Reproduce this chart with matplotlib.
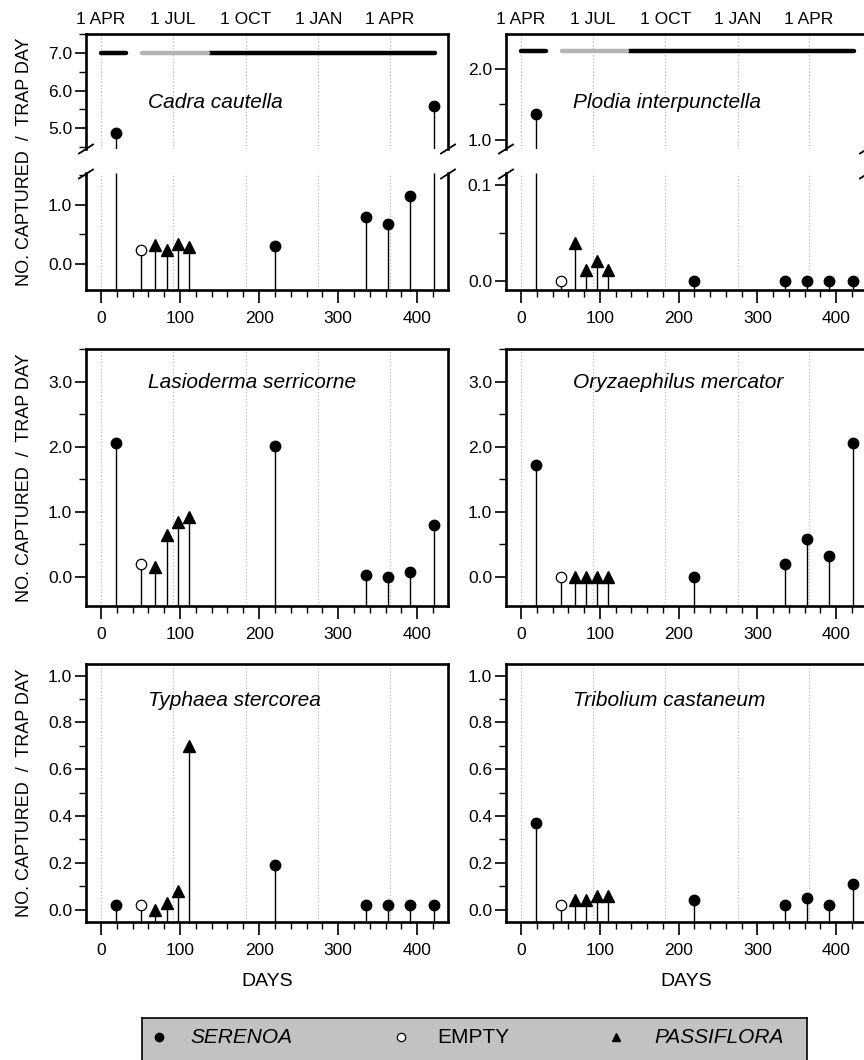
import matplotlib
matplotlib.use("Agg")
import matplotlib.pyplot as plt
from matplotlib.ticker import MultipleLocator, FormatStrFormatter
from matplotlib.lines import Line2D

plt.rcParams['font.family'] = ['Liberation Sans', 'DejaVu Sans']

# sampling days for each bait type
days_serenoa = [19, 220, 335, 363, 391, 421]
days_empty = [51]
days_passiflora = [68, 83, 97, 111]

# captures per trap day, by species
cadra_serenoa = [4.88, 0.31, 0.80, 0.68, 1.15, 5.60]
cadra_empty = [0.24]
cadra_passiflora = [0.32, 0.23, 0.34, 0.28]

plodia_serenoa = [1.37, 0.0, 0.0, 0.0, 0.0, 0.0]
plodia_empty = [0.0]
plodia_passiflora = [0.04, 0.011, 0.021, 0.011]

lasio_serenoa = [2.05, 2.01, 0.02, 0.0, 0.08, 0.80]
lasio_empty = [0.20]
lasio_passiflora = [0.15, 0.64, 0.84, 0.92]

oryz_serenoa = [1.72, 0.0, 0.19, 0.58, 0.32, 2.06]
oryz_empty = [0.0]
oryz_passiflora = [0.0, 0.0, 0.0, 0.0]

typh_serenoa = [0.02, 0.19, 0.02, 0.02, 0.02, 0.02]
typh_empty = [0.02]
typh_passiflora = [0.0, 0.03, 0.08, 0.70]

trib_serenoa = [0.37, 0.04, 0.02, 0.05, 0.02, 0.11]
trib_empty = [0.02]
trib_passiflora = [0.04, 0.04, 0.06, 0.06]

month_days = [0, 91, 183, 275, 365]
month_labels = ['1 APR', '1 JUL', '1 OCT', '1 JAN', '1 APR']

# trap period bars (start day, end day)
bar_black_spans = [(0, 32), (137, 422)]
bar_gray_spans = [(52, 135)]

W, H = 864, 1060
fig = plt.figure(figsize=(W / 100, H / 100), dpi=100)

XL = (-19, 439)
SPINE_W = 1.9


def px_axes(x0, y0, x1, y1):
    # axes rectangle from pixel box (top-left origin)
    return fig.add_axes([x0 / W, 1 - y1 / H, (x1 - x0) / W, (y1 - y0) / H])


def style(ax, ylim, major, minor, xlabels=True):
    ax.set_xlim(*XL)
    ax.set_ylim(*ylim)
    for d in month_days:
        ax.axvline(d, color='#b0b0b0', lw=0.8, ls=(0, (1, 2)), zorder=0)
    ax.xaxis.set_major_locator(MultipleLocator(100))
    ax.xaxis.set_minor_locator(MultipleLocator(20))
    ax.yaxis.set_major_locator(MultipleLocator(major))
    ax.yaxis.set_minor_locator(MultipleLocator(minor))
    ax.yaxis.set_major_formatter(FormatStrFormatter('%.1f'))
    ax.tick_params(axis='x', which='major', length=9, width=1.2, pad=6,
                   labelsize=12.5, labelbottom=xlabels)
    ax.tick_params(axis='x', which='minor', length=5, width=1.0)
    ax.tick_params(axis='y', which='major', length=8, width=1.2, pad=2, labelsize=12.5)
    ax.tick_params(axis='y', which='minor', length=5, width=1.0)
    for s in ax.spines.values():
        s.set_linewidth(SPINE_W)


def stems(ax, ylim, serenoa, empty, passiflora):
    lo, hi = ylim
    groups = [
        (days_serenoa, serenoa, dict(marker='o', mfc='black', mec='black', ms=7.5)),
        (days_empty, empty, dict(marker='o', mfc='white', mec='black', ms=7.5, mew=0.9)),
        (days_passiflora, passiflora, dict(marker='^', mfc='black', mec='black', ms=8)),
    ]
    for xs, ys, mk in groups:
        for x, y in zip(xs, ys):
            if y < lo:
                continue
            ax.vlines(x, lo, min(y, hi), color='black', lw=1.0, zorder=2)
            if y <= hi:
                ax.plot([x], [y], ls='none', zorder=3, clip_on=False, **mk)


def month_axis(ax):
    sec = ax.secondary_xaxis('top')
    sec.set_xticks(month_days)
    sec.set_xticklabels(month_labels)
    sec.tick_params(length=0, pad=5, labelsize=12.5)
    sec.spines['top'].set_visible(False)


def bars(ax, y):
    for a, b in bar_black_spans:
        ax.hlines(y, a, b, color='black', lw=3.2, capstyle='round', zorder=2)
    for a, b in bar_gray_spans:
        ax.hlines(y, a, b, color='#b4b4b4', lw=3.2, capstyle='round', zorder=2)


def break_marks(x_list, y):
    for x in x_list:
        fig.add_artist(Line2D([(x - 7) / W, (x + 7) / W], [1 - (y + 4.5) / H, 1 - (y - 4.5) / H],
                              color='black', lw=1.3))


def label(ax, text, fx, fy):
    ax.text(fx, fy, text, transform=ax.transAxes, fontsize=15, style='italic',
            ha='left', va='center')


cols = [(86, 448), (506, 867)]

# ---- top row (broken y axis) ----
top_specs = [
    ('Cadra cautella', (4.44, 7.507), 1.0, 0.5, (-0.44, 1.54), 1.0, 0.5, 7.0,
     cadra_serenoa, cadra_empty, cadra_passiflora),
    ('Plodia interpunctella', (0.873, 2.493), 1.0, 0.5, (-0.0094, 0.1125), 0.1, 0.05, 2.25,
     plodia_serenoa, plodia_empty, plodia_passiflora),
]
for (x0, x1), spec in zip(cols, top_specs):
    name, yl_u, maj_u, min_u, yl_l, maj_l, min_l, bar_y, s, e, p = spec
    au = px_axes(x0, 34, x1, 149)
    al = px_axes(x0, 173, x1, 290)
    style(au, yl_u, maj_u, min_u, xlabels=False)
    style(al, yl_l, maj_l, min_l)
    au.spines['bottom'].set_visible(False)
    au.tick_params(axis='x', which='both', bottom=False)
    al.spines['top'].set_visible(False)
    stems(au, yl_u, s, e, p)
    stems(al, yl_l, s, e, p)
    bars(au, bar_y)
    month_axis(au)
    label(au, name, 0.172 if x0 < 400 else 0.185, 0.40)
    break_marks([x0, x1], 149)
    break_marks([x0, x1], 174)

# ---- middle and bottom rows ----
rows = [
    (349, 606, (-0.45, 3.5), 1.0, 0.5,
     [('Lasioderma serricorne', lasio_serenoa, lasio_empty, lasio_passiflora),
      ('Oryzaephilus mercator', oryz_serenoa, oryz_empty, oryz_passiflora)], 0.868),
    (664, 922, (-0.053, 1.05), 0.2, 0.1,
     [('Typhaea stercorea', typh_serenoa, typh_empty, typh_passiflora),
      ('Tribolium castaneum', trib_serenoa, trib_empty, trib_passiflora)], 0.857),
]
for y0, y1, yl, maj, mnr, panels, ly in rows:
    for (x0, x1), (name, s, e, p) in zip(cols, panels):
        ax = px_axes(x0, y0, x1, y1)
        style(ax, yl, maj, mnr)
        stems(ax, yl, s, e, p)
        label(ax, name, 0.172 if x0 < 400 else 0.185, ly)

# y labels and x labels
for yc in [162, 477.5, 793]:
    fig.text(25 / W, 1 - yc / H, 'NO. CAPTURED  /  TRAP DAY', rotation=90,
             ha='center', va='center', fontsize=13)
for xc in [267, 686]:
    fig.text(xc / W, 1 - 982 / H, 'DAYS', ha='center', va='center', fontsize=14)

# legend box
lg = px_axes(142, 1018, 807, 1064)
lg.set_facecolor('#c2c2c2')
lg.set_xticks([])
lg.set_yticks([])
for s in lg.spines.values():
    s.set_linewidth(1.2)
lg.set_xlim(0, 1)
lg.set_ylim(0, 1)
ty = 0.58
lg.plot([0.025], [ty], marker='o', color='black', ms=6, ls='none')
lg.text(0.073, ty, 'SERENOA', style='italic', fontsize=15, va='center')
lg.plot([0.389], [ty], marker='o', mfc='white', mec='black', ms=6, mew=0.9, ls='none')
lg.text(0.444, ty, 'EMPTY', fontsize=15, va='center')
lg.plot([0.713], [ty], marker='^', color='black', ms=6, ls='none')
lg.text(0.77, ty, 'PASSIFLORA', style='italic', fontsize=15, va='center')

fig.savefig('out.png', dpi=100)
